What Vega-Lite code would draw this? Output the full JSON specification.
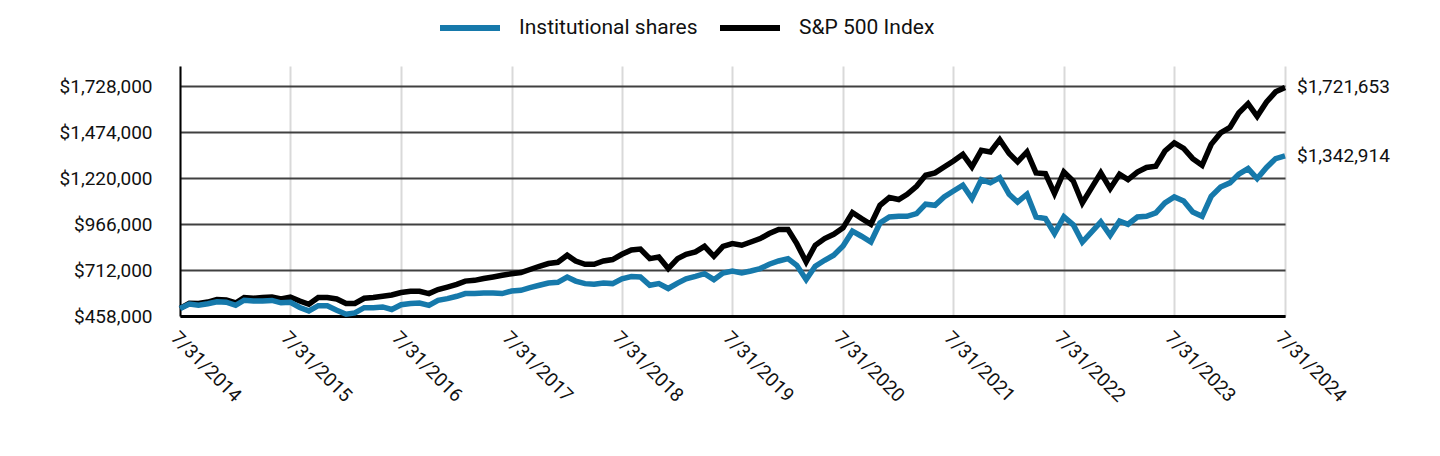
{
  "$schema": "https://vega.github.io/schema/vega-lite/v6.json",
  "autosize": "none",
  "width": 1105,
  "height": 250,
  "padding": {"left": 180, "top": 66, "right": 155, "bottom": 140},
  "background": "white",
  "config": {
    "view": {"stroke": null},
    "font": "Roboto",
    "axis": {"labelFont": "Roboto", "labelFontSize": 19, "labelColor": "#111", "ticks": false, "domainColor": "#000", "title": null},
    "legend": {"labelFont": "Roboto", "labelFontSize": 21, "labelColor": "#111", "labelLimit": 400}
  },
  "data": {"values": [
{"d":"2014-07-31","s":"S&P 500 Index","v":500000},{"d":"2014-08-31","s":"S&P 500 Index","v":528000},{"d":"2014-09-30","s":"S&P 500 Index","v":527000},{"d":"2014-10-31","s":"S&P 500 Index","v":535000},{"d":"2014-11-30","s":"S&P 500 Index","v":549000},{"d":"2014-12-31","s":"S&P 500 Index","v":547000},
{"d":"2015-01-31","s":"S&P 500 Index","v":530000},{"d":"2015-02-28","s":"S&P 500 Index","v":560000},{"d":"2015-03-31","s":"S&P 500 Index","v":556000},{"d":"2015-04-30","s":"S&P 500 Index","v":560000},{"d":"2015-05-31","s":"S&P 500 Index","v":563000},{"d":"2015-06-30","s":"S&P 500 Index","v":552000},
{"d":"2015-07-31","s":"S&P 500 Index","v":563000},{"d":"2015-08-31","s":"S&P 500 Index","v":541000},{"d":"2015-09-30","s":"S&P 500 Index","v":523000},{"d":"2015-10-31","s":"S&P 500 Index","v":560000},{"d":"2015-11-30","s":"S&P 500 Index","v":560000},{"d":"2015-12-31","s":"S&P 500 Index","v":552000},
{"d":"2016-01-31","s":"S&P 500 Index","v":527000},{"d":"2016-02-29","s":"S&P 500 Index","v":527000},{"d":"2016-03-31","s":"S&P 500 Index","v":556000},{"d":"2016-04-30","s":"S&P 500 Index","v":560000},{"d":"2016-05-31","s":"S&P 500 Index","v":567000},{"d":"2016-06-30","s":"S&P 500 Index","v":574000},
{"d":"2016-07-31","s":"S&P 500 Index","v":588000},{"d":"2016-08-31","s":"S&P 500 Index","v":595000},{"d":"2016-09-30","s":"S&P 500 Index","v":595000},{"d":"2016-10-31","s":"S&P 500 Index","v":582000},{"d":"2016-11-30","s":"S&P 500 Index","v":604000},{"d":"2016-12-31","s":"S&P 500 Index","v":618000},
{"d":"2017-01-31","s":"S&P 500 Index","v":633000},{"d":"2017-02-28","s":"S&P 500 Index","v":651000},{"d":"2017-03-31","s":"S&P 500 Index","v":655000},{"d":"2017-04-30","s":"S&P 500 Index","v":665000},{"d":"2017-05-31","s":"S&P 500 Index","v":674000},{"d":"2017-06-30","s":"S&P 500 Index","v":683000},
{"d":"2017-07-31","s":"S&P 500 Index","v":692000},{"d":"2017-08-31","s":"S&P 500 Index","v":698000},{"d":"2017-09-30","s":"S&P 500 Index","v":715000},{"d":"2017-10-31","s":"S&P 500 Index","v":733000},{"d":"2017-11-30","s":"S&P 500 Index","v":748000},{"d":"2017-12-31","s":"S&P 500 Index","v":755000},
{"d":"2018-01-31","s":"S&P 500 Index","v":794000},{"d":"2018-02-28","s":"S&P 500 Index","v":762000},{"d":"2018-03-31","s":"S&P 500 Index","v":744000},{"d":"2018-04-30","s":"S&P 500 Index","v":744000},{"d":"2018-05-31","s":"S&P 500 Index","v":762000},{"d":"2018-06-30","s":"S&P 500 Index","v":770000},
{"d":"2018-07-31","s":"S&P 500 Index","v":799000},{"d":"2018-08-31","s":"S&P 500 Index","v":823000},{"d":"2018-09-30","s":"S&P 500 Index","v":828000},{"d":"2018-10-31","s":"S&P 500 Index","v":775000},{"d":"2018-11-30","s":"S&P 500 Index","v":784000},{"d":"2018-12-31","s":"S&P 500 Index","v":720000},
{"d":"2019-01-31","s":"S&P 500 Index","v":775000},{"d":"2019-02-28","s":"S&P 500 Index","v":799000},{"d":"2019-03-31","s":"S&P 500 Index","v":812000},{"d":"2019-04-30","s":"S&P 500 Index","v":843000},{"d":"2019-05-31","s":"S&P 500 Index","v":788000},{"d":"2019-06-30","s":"S&P 500 Index","v":843000},
{"d":"2019-07-31","s":"S&P 500 Index","v":858000},{"d":"2019-08-31","s":"S&P 500 Index","v":849000},{"d":"2019-09-30","s":"S&P 500 Index","v":867000},{"d":"2019-10-31","s":"S&P 500 Index","v":886000},{"d":"2019-11-30","s":"S&P 500 Index","v":914000},{"d":"2019-12-31","s":"S&P 500 Index","v":936000},
{"d":"2020-01-31","s":"S&P 500 Index","v":936000},{"d":"2020-02-29","s":"S&P 500 Index","v":858000},{"d":"2020-03-31","s":"S&P 500 Index","v":757000},{"d":"2020-04-30","s":"S&P 500 Index","v":849000},{"d":"2020-05-31","s":"S&P 500 Index","v":886000},{"d":"2020-06-30","s":"S&P 500 Index","v":910000},
{"d":"2020-07-31","s":"S&P 500 Index","v":945000},{"d":"2020-08-31","s":"S&P 500 Index","v":1030000},{"d":"2020-09-30","s":"S&P 500 Index","v":997000},{"d":"2020-10-31","s":"S&P 500 Index","v":965000},{"d":"2020-11-30","s":"S&P 500 Index","v":1070000},{"d":"2020-12-31","s":"S&P 500 Index","v":1113000},
{"d":"2021-01-31","s":"S&P 500 Index","v":1102000},{"d":"2021-02-28","s":"S&P 500 Index","v":1131000},{"d":"2021-03-31","s":"S&P 500 Index","v":1175000},{"d":"2021-04-30","s":"S&P 500 Index","v":1236000},{"d":"2021-05-31","s":"S&P 500 Index","v":1249000},{"d":"2021-06-30","s":"S&P 500 Index","v":1282000},
{"d":"2021-07-31","s":"S&P 500 Index","v":1315000},{"d":"2021-08-31","s":"S&P 500 Index","v":1352000},{"d":"2021-09-30","s":"S&P 500 Index","v":1282000},{"d":"2021-10-31","s":"S&P 500 Index","v":1374000},{"d":"2021-11-30","s":"S&P 500 Index","v":1365000},{"d":"2021-12-31","s":"S&P 500 Index","v":1433000},
{"d":"2022-01-31","s":"S&P 500 Index","v":1356000},{"d":"2022-02-28","s":"S&P 500 Index","v":1310000},{"d":"2022-03-31","s":"S&P 500 Index","v":1365000},{"d":"2022-04-30","s":"S&P 500 Index","v":1249000},{"d":"2022-05-31","s":"S&P 500 Index","v":1245000},{"d":"2022-06-30","s":"S&P 500 Index","v":1135000},
{"d":"2022-07-31","s":"S&P 500 Index","v":1254000},{"d":"2022-08-31","s":"S&P 500 Index","v":1204000},{"d":"2022-09-30","s":"S&P 500 Index","v":1083000},{"d":"2022-10-31","s":"S&P 500 Index","v":1168000},{"d":"2022-11-30","s":"S&P 500 Index","v":1249000},{"d":"2022-12-31","s":"S&P 500 Index","v":1162000},
{"d":"2023-01-31","s":"S&P 500 Index","v":1242000},{"d":"2023-02-28","s":"S&P 500 Index","v":1212000},{"d":"2023-03-31","s":"S&P 500 Index","v":1254000},{"d":"2023-04-30","s":"S&P 500 Index","v":1279000},{"d":"2023-05-31","s":"S&P 500 Index","v":1286000},{"d":"2023-06-30","s":"S&P 500 Index","v":1370000},
{"d":"2023-07-31","s":"S&P 500 Index","v":1415000},{"d":"2023-08-31","s":"S&P 500 Index","v":1384000},{"d":"2023-09-30","s":"S&P 500 Index","v":1328000},{"d":"2023-10-31","s":"S&P 500 Index","v":1291000},{"d":"2023-11-30","s":"S&P 500 Index","v":1407000},{"d":"2023-12-31","s":"S&P 500 Index","v":1470000},
{"d":"2024-01-31","s":"S&P 500 Index","v":1500000},{"d":"2024-02-29","s":"S&P 500 Index","v":1580000},{"d":"2024-03-31","s":"S&P 500 Index","v":1632000},{"d":"2024-04-30","s":"S&P 500 Index","v":1562000},{"d":"2024-05-31","s":"S&P 500 Index","v":1641000},{"d":"2024-06-30","s":"S&P 500 Index","v":1697000},
{"d":"2024-07-31","s":"S&P 500 Index","v":1721653},
{"d":"2014-07-31","s":"Institutional shares","v":500000},{"d":"2014-08-31","s":"Institutional shares","v":524000},{"d":"2014-09-30","s":"Institutional shares","v":518000},{"d":"2014-10-31","s":"Institutional shares","v":526000},{"d":"2014-11-30","s":"Institutional shares","v":537000},{"d":"2014-12-31","s":"Institutional shares","v":534000},
{"d":"2015-01-31","s":"Institutional shares","v":517000},{"d":"2015-02-28","s":"Institutional shares","v":545000},{"d":"2015-03-31","s":"Institutional shares","v":541000},{"d":"2015-04-30","s":"Institutional shares","v":541000},{"d":"2015-05-31","s":"Institutional shares","v":544000},{"d":"2015-06-30","s":"Institutional shares","v":531000},
{"d":"2015-07-31","s":"Institutional shares","v":534000},{"d":"2015-08-31","s":"Institutional shares","v":505000},{"d":"2015-09-30","s":"Institutional shares","v":486000},{"d":"2015-10-31","s":"Institutional shares","v":515000},{"d":"2015-11-30","s":"Institutional shares","v":515000},{"d":"2015-12-31","s":"Institutional shares","v":490000},
{"d":"2016-01-31","s":"Institutional shares","v":468000},{"d":"2016-02-29","s":"Institutional shares","v":475000},{"d":"2016-03-31","s":"Institutional shares","v":504000},{"d":"2016-04-30","s":"Institutional shares","v":504000},{"d":"2016-05-31","s":"Institutional shares","v":508000},{"d":"2016-06-30","s":"Institutional shares","v":494000},
{"d":"2016-07-31","s":"Institutional shares","v":520000},{"d":"2016-08-31","s":"Institutional shares","v":527000},{"d":"2016-09-30","s":"Institutional shares","v":530000},{"d":"2016-10-31","s":"Institutional shares","v":517000},{"d":"2016-11-30","s":"Institutional shares","v":545000},{"d":"2016-12-31","s":"Institutional shares","v":554000},
{"d":"2017-01-31","s":"Institutional shares","v":567000},{"d":"2017-02-28","s":"Institutional shares","v":582000},{"d":"2017-03-31","s":"Institutional shares","v":582000},{"d":"2017-04-30","s":"Institutional shares","v":585000},{"d":"2017-05-31","s":"Institutional shares","v":585000},{"d":"2017-06-30","s":"Institutional shares","v":582000},
{"d":"2017-07-31","s":"Institutional shares","v":596000},{"d":"2017-08-31","s":"Institutional shares","v":600000},{"d":"2017-09-30","s":"Institutional shares","v":615000},{"d":"2017-10-31","s":"Institutional shares","v":628000},{"d":"2017-11-30","s":"Institutional shares","v":640000},{"d":"2017-12-31","s":"Institutional shares","v":644000},
{"d":"2018-01-31","s":"Institutional shares","v":673000},{"d":"2018-02-28","s":"Institutional shares","v":651000},{"d":"2018-03-31","s":"Institutional shares","v":637000},{"d":"2018-04-30","s":"Institutional shares","v":633000},{"d":"2018-05-31","s":"Institutional shares","v":640000},{"d":"2018-06-30","s":"Institutional shares","v":637000},
{"d":"2018-07-31","s":"Institutional shares","v":664000},{"d":"2018-08-31","s":"Institutional shares","v":676000},{"d":"2018-09-30","s":"Institutional shares","v":674000},{"d":"2018-10-31","s":"Institutional shares","v":628000},{"d":"2018-11-30","s":"Institutional shares","v":637000},{"d":"2018-12-31","s":"Institutional shares","v":610000},
{"d":"2019-01-31","s":"Institutional shares","v":640000},{"d":"2019-02-28","s":"Institutional shares","v":664000},{"d":"2019-03-31","s":"Institutional shares","v":677000},{"d":"2019-04-30","s":"Institutional shares","v":692000},{"d":"2019-05-31","s":"Institutional shares","v":659000},{"d":"2019-06-30","s":"Institutional shares","v":696000},
{"d":"2019-07-31","s":"Institutional shares","v":707000},{"d":"2019-08-31","s":"Institutional shares","v":696000},{"d":"2019-09-30","s":"Institutional shares","v":707000},{"d":"2019-10-31","s":"Institutional shares","v":720000},{"d":"2019-11-30","s":"Institutional shares","v":744000},{"d":"2019-12-31","s":"Institutional shares","v":762000},
{"d":"2020-01-31","s":"Institutional shares","v":775000},{"d":"2020-02-29","s":"Institutional shares","v":738000},{"d":"2020-03-31","s":"Institutional shares","v":659000},{"d":"2020-04-30","s":"Institutional shares","v":733000},{"d":"2020-05-31","s":"Institutional shares","v":766000},{"d":"2020-06-30","s":"Institutional shares","v":794000},
{"d":"2020-07-31","s":"Institutional shares","v":845000},{"d":"2020-08-31","s":"Institutional shares","v":927000},{"d":"2020-09-30","s":"Institutional shares","v":899000},{"d":"2020-10-31","s":"Institutional shares","v":867000},{"d":"2020-11-30","s":"Institutional shares","v":972000},{"d":"2020-12-31","s":"Institutional shares","v":1005000},
{"d":"2021-01-31","s":"Institutional shares","v":1009000},{"d":"2021-02-28","s":"Institutional shares","v":1009000},{"d":"2021-03-31","s":"Institutional shares","v":1024000},{"d":"2021-04-30","s":"Institutional shares","v":1076000},{"d":"2021-05-31","s":"Institutional shares","v":1070000},{"d":"2021-06-30","s":"Institutional shares","v":1116000},
{"d":"2021-07-31","s":"Institutional shares","v":1149000},{"d":"2021-08-31","s":"Institutional shares","v":1181000},{"d":"2021-09-30","s":"Institutional shares","v":1107000},{"d":"2021-10-31","s":"Institutional shares","v":1212000},{"d":"2021-11-30","s":"Institutional shares","v":1194000},{"d":"2021-12-31","s":"Institutional shares","v":1223000},
{"d":"2022-01-31","s":"Institutional shares","v":1131000},{"d":"2022-02-28","s":"Institutional shares","v":1088000},{"d":"2022-03-31","s":"Institutional shares","v":1131000},{"d":"2022-04-30","s":"Institutional shares","v":1005000},{"d":"2022-05-31","s":"Institutional shares","v":997000},{"d":"2022-06-30","s":"Institutional shares","v":914000},
{"d":"2022-07-31","s":"Institutional shares","v":1007000},{"d":"2022-08-31","s":"Institutional shares","v":962000},{"d":"2022-09-30","s":"Institutional shares","v":867000},{"d":"2022-10-31","s":"Institutional shares","v":923000},{"d":"2022-11-30","s":"Institutional shares","v":978000},{"d":"2022-12-31","s":"Institutional shares","v":904000},
{"d":"2023-01-31","s":"Institutional shares","v":983000},{"d":"2023-02-28","s":"Institutional shares","v":965000},{"d":"2023-03-31","s":"Institutional shares","v":1005000},{"d":"2023-04-30","s":"Institutional shares","v":1009000},{"d":"2023-05-31","s":"Institutional shares","v":1028000},{"d":"2023-06-30","s":"Institutional shares","v":1083000},
{"d":"2023-07-31","s":"Institutional shares","v":1116000},{"d":"2023-08-31","s":"Institutional shares","v":1094000},{"d":"2023-09-30","s":"Institutional shares","v":1033000},{"d":"2023-10-31","s":"Institutional shares","v":1009000},{"d":"2023-11-30","s":"Institutional shares","v":1120000},{"d":"2023-12-31","s":"Institutional shares","v":1171000},
{"d":"2024-01-31","s":"Institutional shares","v":1194000},{"d":"2024-02-29","s":"Institutional shares","v":1242000},{"d":"2024-03-31","s":"Institutional shares","v":1273000},{"d":"2024-04-30","s":"Institutional shares","v":1218000},{"d":"2024-05-31","s":"Institutional shares","v":1279000},{"d":"2024-06-30","s":"Institutional shares","v":1328000},
{"d":"2024-07-31","s":"Institutional shares","v":1342914}
  ]},
  "encoding": {
    "x": {
      "field": "d", "type": "temporal",
      "scale": {"type": "utc", "nice": false, "domain": [{"year": 2014, "month": 7, "date": 31, "utc": true}, {"year": 2024, "month": 7, "date": 31, "utc": true}]},
      "axis": {
        "values": [
          {"year": 2014, "month": 7, "date": 31, "utc": true},
          {"year": 2015, "month": 7, "date": 31, "utc": true},
          {"year": 2016, "month": 7, "date": 31, "utc": true},
          {"year": 2017, "month": 7, "date": 31, "utc": true},
          {"year": 2018, "month": 7, "date": 31, "utc": true},
          {"year": 2019, "month": 7, "date": 31, "utc": true},
          {"year": 2020, "month": 7, "date": 31, "utc": true},
          {"year": 2021, "month": 7, "date": 31, "utc": true},
          {"year": 2022, "month": 7, "date": 31, "utc": true},
          {"year": 2023, "month": 7, "date": 31, "utc": true},
          {"year": 2024, "month": 7, "date": 31, "utc": true}
        ],
        "labelExpr": "utcFormat(datum.value, '%-m/%-d/%Y')",
        "labelAngle": 45, "labelAlign": "left", "labelBaseline": "top", "labelPadding": 12,
        "grid": true, "gridColor": "#d9d9d9", "gridWidth": 2,
        "domainWidth": 3, "labelFlush": false, "labelOverlap": false, "zindex": 0
      }
    },
    "y": {
      "field": "v", "type": "quantitative",
      "scale": {"domain": [458000, 1840000], "nice": false, "zero": false},
      "axis": {
        "values": [458000, 712000, 966000, 1220000, 1474000, 1728000],
        "format": "$,.0f", "labelPadding": 28,
        "grid": true, "gridColor": "#404040", "gridWidth": 2,
        "domainWidth": 2, "labelFlush": false
      }
    },
    "color": {
      "field": "s", "type": "nominal",
      "scale": {"domain": ["Institutional shares", "S&P 500 Index"], "range": ["#1679ab", "#000000"]},
      "legend": {
        "title": null, "orient": "none", "direction": "horizontal",
        "legendX": 257, "legendY": -71,
        "symbolType": "stroke", "symbolSize": 3600, "symbolStrokeWidth": 6,
        "labelOffset": 16, "columnPadding": 10
      }
    }
  },
  "layer": [
    {"mark": {"type": "line", "strokeWidth": 5.5, "strokeJoin": "miter"}},
    {
      "transform": [{"filter": {"field": "d", "timeUnit": "utcyearmonth", "equal": {"year": 2024, "month": 7, "utc": true}}}],
      "mark": {"type": "text", "align": "left", "baseline": "middle", "dx": 12, "fontSize": 19, "font": "Roboto", "color": "#111"},
      "encoding": {
        "text": {"field": "v", "type": "quantitative", "format": "$,.0f"},
        "color": {"value": "#111"}
      }
    }
  ]
}
